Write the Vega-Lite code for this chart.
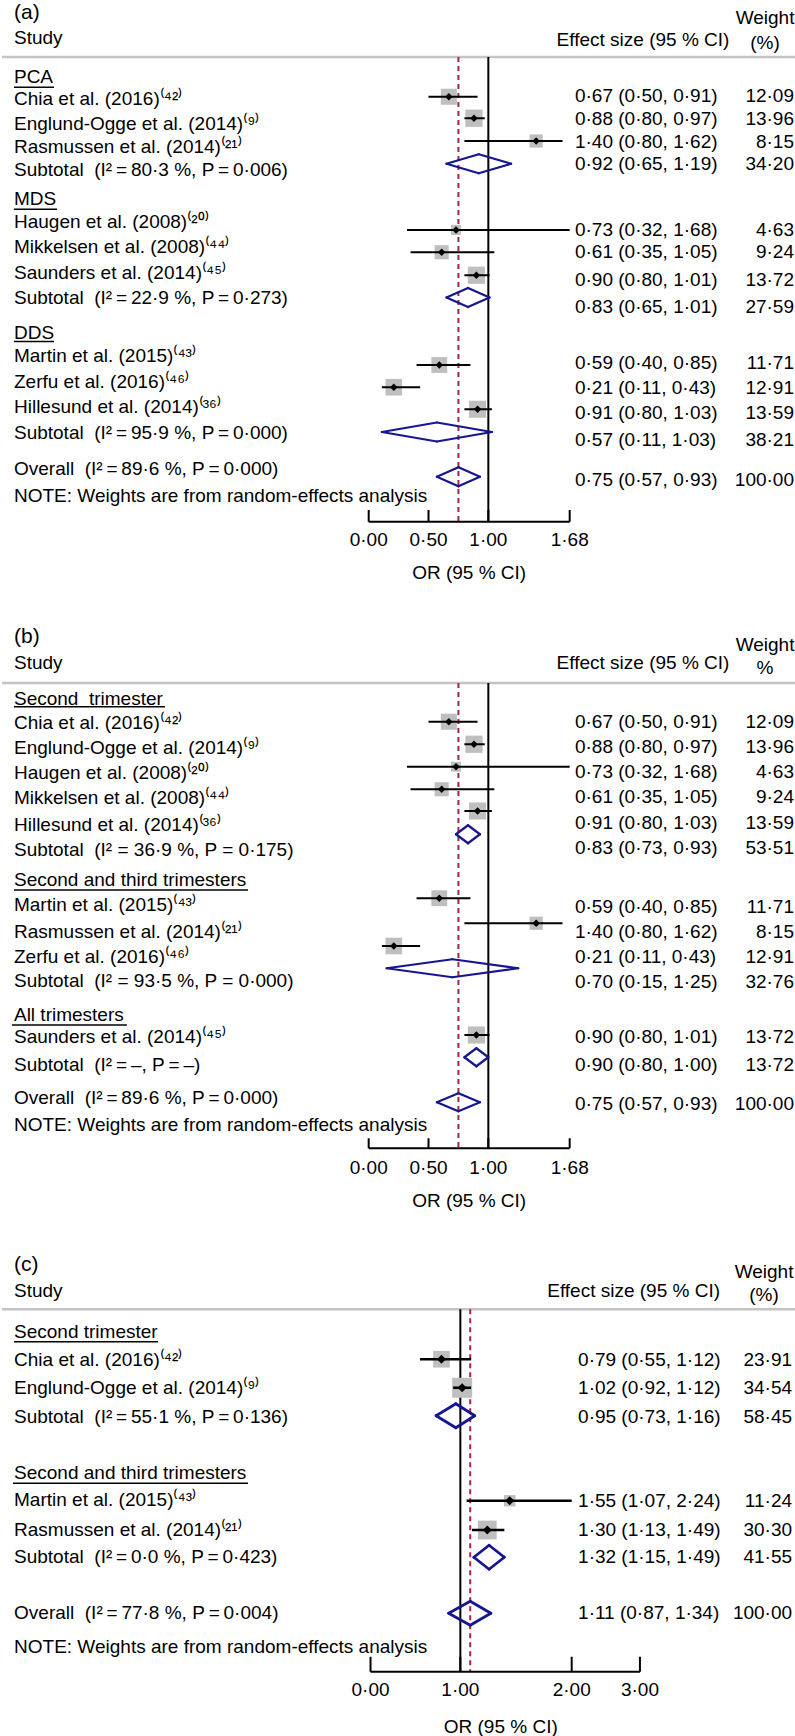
{
"$schema": "https://vega.github.io/schema/vega-lite/v6.json",
"padding": 0,
"spacing": 0,
"background": "white",
"config": {"view": {"stroke": null}, "axis": {"disable": true}, "legend": {"disable": true},
  "text": {"font": "Liberation Sans", "fontSize": 19, "color": "black", "baseline": "middle"},
  "locale": {"number": {"decimal": "·", "thousands": ",", "grouping": [3], "currency": ["", ""]}}},
"resolve": {"scale": {"x": "independent", "y": "independent", "size": "independent"}},
"datasets": {
"A": [
{"type":"p","label":"(a)","ly":0.52},
{"type":"h","label":"Study","ly":1.52},
{"type":"he","label":"Effect size (95 % CI)","ty":1.6},
{"type":"hw","label":"Weight","ty":0.72},
{"type":"hw","label":"(%)","ty":1.72},
{"type":"g","label":"PCA","ly":3.07},
{"type":"s","label":"Chia et al. (2016)⁽⁴²⁾","ly":3.96,"py":3.87,"ty":3.84,"est":0.67,"lo":0.5,"hi":0.91,"w":12.09,"ci":"0·67 (0·50, 0·91)"},
{"type":"s","label":"Englund-Ogge et al. (2014)⁽⁹⁾","ly":4.96,"py":4.73,"ty":4.76,"est":0.88,"lo":0.8,"hi":0.97,"w":13.96,"ci":"0·88 (0·80, 0·97)"},
{"type":"s","label":"Rasmussen et al. (2014)⁽²¹⁾","ly":5.87,"py":5.64,"ty":5.68,"est":1.4,"lo":0.8,"hi":1.62,"w":8.15,"ci":"1·40 (0·80, 1·62)"},
{"type":"d","label":"Subtotal\u00a0\u00a0(I²\u2009=\u200980·3 %, P\u2009=\u20090·006)","ly":6.8,"py":6.55,"ty":6.56,"est":0.92,"lo":0.65,"hi":1.19,"w":34.2,"ci":"0·92 (0·65, 1·19)"},
{"type":"g","label":"MDS","ly":7.97},
{"type":"s","label":"Haugen et al. (2008)⁽²⁰⁾","ly":8.87,"py":9.2,"ty":9.2,"est":0.73,"lo":0.32,"hi":1.68,"w":4.63,"ci":"0·73 (0·32, 1·68)"},
{"type":"s","label":"Mikkelsen et al. (2008)⁽⁴⁴⁾","ly":9.87,"py":10.09,"ty":10.08,"est":0.61,"lo":0.35,"hi":1.05,"w":9.24,"ci":"0·61 (0·35, 1·05)"},
{"type":"s","label":"Saunders et al. (2014)⁽⁴⁵⁾","ly":10.93,"py":11.01,"ty":11.2,"est":0.9,"lo":0.8,"hi":1.01,"w":13.72,"ci":"0·90 (0·80, 1·01)"},
{"type":"d","label":"Subtotal\u00a0\u00a0(I²\u2009=\u200922·9 %, P\u2009=\u20090·273)","ly":11.93,"py":11.9,"ty":12.27,"est":0.83,"lo":0.65,"hi":1.01,"w":27.59,"ci":"0·83 (0·65, 1·01)"},
{"type":"g","label":"DDS","ly":13.33},
{"type":"s","label":"Martin et al. (2015)⁽⁴³⁾","ly":14.24,"py":14.6,"ty":14.53,"est":0.59,"lo":0.4,"hi":0.85,"w":11.71,"ci":"0·59 (0·40, 0·85)"},
{"type":"s","label":"Zerfu et al. (2016)⁽⁴⁶⁾","ly":15.27,"py":15.49,"ty":15.53,"est":0.21,"lo":0.11,"hi":0.43,"w":12.91,"ci":"0·21 (0·11, 0·43)"},
{"type":"s","label":"Hillesund et al. (2014)⁽³⁶⁾","ly":16.27,"py":16.37,"ty":16.53,"est":0.91,"lo":0.8,"hi":1.03,"w":13.59,"ci":"0·91 (0·80, 1·03)"},
{"type":"d","label":"Subtotal\u00a0\u00a0(I²\u2009=\u200995·9 %, P\u2009=\u20090·000)","ly":17.33,"py":17.28,"ty":17.6,"est":0.57,"lo":0.11,"hi":1.03,"w":38.21,"ci":"0·57 (0·11, 1·03)"},
{"type":"o","label":"Overall\u00a0\u00a0(I²\u2009=\u200989·6 %, P\u2009=\u20090·000)","ly":18.77,"py":19.07,"ty":19.2,"est":0.75,"lo":0.57,"hi":0.93,"w":100,"ci":"0·75 (0·57, 0·93)"},
{"type":"n","label":"NOTE: Weights are from random-effects analysis","ly":19.84},
{"type":"t","v":0,"lab":"0·00"},{"type":"t","v":0.5,"lab":"0·50"},{"type":"t","v":1,"lab":"1·00"},{"type":"t","v":1.68,"lab":"1·68"},
{"type":"xt","label":"OR (95 % CI)"}
],
"B": [
{"type":"p","label":"(b)","ly":1.27},
{"type":"h","label":"Study","ly":2.33},
{"type":"he","label":"Effect size (95 % CI)","ty":2.32},
{"type":"hw","label":"Weight","ty":1.6},
{"type":"hw","label":"%","ty":2.52},
{"type":"g","label":"Second\u00a0\u00a0trimester","ly":3.76},
{"type":"s","label":"Chia et al. (2016)⁽⁴²⁾","ly":4.73,"py":4.67,"ty":4.67,"est":0.67,"lo":0.5,"hi":0.91,"w":12.09,"ci":"0·67 (0·50, 0·91)"},
{"type":"s","label":"Englund-Ogge et al. (2014)⁽⁹⁾","ly":5.73,"py":5.57,"ty":5.67,"est":0.88,"lo":0.8,"hi":0.97,"w":13.96,"ci":"0·88 (0·80, 0·97)"},
{"type":"s","label":"Haugen et al. (2008)⁽²⁰⁾","ly":6.73,"py":6.47,"ty":6.69,"est":0.73,"lo":0.32,"hi":1.68,"w":4.63,"ci":"0·73 (0·32, 1·68)"},
{"type":"s","label":"Mikkelsen et al. (2008)⁽⁴⁴⁾","ly":7.73,"py":7.37,"ty":7.69,"est":0.61,"lo":0.35,"hi":1.05,"w":9.24,"ci":"0·61 (0·35, 1·05)"},
{"type":"s","label":"Hillesund et al. (2014)⁽³⁶⁾","ly":8.8,"py":8.24,"ty":8.71,"est":0.91,"lo":0.8,"hi":1.03,"w":13.59,"ci":"0·91 (0·80, 1·03)"},
{"type":"d","label":"Subtotal\u00a0\u00a0(I² = 36·9 %, P = 0·175)","ly":9.8,"py":9.17,"ty":9.73,"est":0.83,"lo":0.73,"hi":0.93,"w":53.51,"ci":"0·83 (0·73, 0·93)"},
{"type":"g","label":"Second and third trimesters","ly":11.0},
{"type":"s","label":"Martin et al. (2015)⁽⁴³⁾","ly":12.0,"py":11.73,"ty":12.07,"est":0.59,"lo":0.4,"hi":0.85,"w":11.71,"ci":"0·59 (0·40, 0·85)"},
{"type":"s","label":"Rasmussen et al. (2014)⁽²¹⁾","ly":13.07,"py":12.73,"ty":13.07,"est":1.4,"lo":0.8,"hi":1.62,"w":8.15,"ci":"1·40 (0·80, 1·62)"},
{"type":"s","label":"Zerfu et al. (2016)⁽⁴⁶⁾","ly":14.07,"py":13.64,"ty":14.07,"est":0.21,"lo":0.11,"hi":0.43,"w":12.91,"ci":"0·21 (0·11, 0·43)"},
{"type":"d","label":"Subtotal\u00a0\u00a0(I² = 93·5 %, P = 0·000)","ly":15.03,"py":14.53,"ty":15.07,"est":0.7,"lo":0.15,"hi":1.25,"w":32.76,"ci":"0·70 (0·15, 1·25)"},
{"type":"g","label":"All trimesters","ly":16.4},
{"type":"s","label":"Saunders et al. (2014)⁽⁴⁵⁾","ly":17.27,"py":17.2,"ty":17.29,"est":0.9,"lo":0.8,"hi":1.01,"w":13.72,"ci":"0·90 (0·80, 1·01)"},
{"type":"d","label":"Subtotal\u00a0\u00a0(I²\u2009=\u2009–, P\u2009=\u2009–)","ly":18.4,"py":18.09,"ty":18.4,"est":0.9,"lo":0.8,"hi":1.0,"w":13.72,"ci":"0·90 (0·80, 1·00)"},
{"type":"o","label":"Overall\u00a0\u00a0(I²\u2009=\u200989·6 %, P\u2009=\u20090·000)","ly":19.73,"py":19.89,"ty":19.96,"est":0.75,"lo":0.57,"hi":0.93,"w":100,"ci":"0·75 (0·57, 0·93)"},
{"type":"n","label":"NOTE: Weights are from random-effects analysis","ly":20.8},
{"type":"t","v":0,"lab":"0·00"},{"type":"t","v":0.5,"lab":"0·50"},{"type":"t","v":1,"lab":"1·00"},{"type":"t","v":1.68,"lab":"1·68"},
{"type":"xt","label":"OR (95 % CI)"}
],
"C": [
{"type":"p","label":"(c)","ly":1.2},
{"type":"h","label":"Study","ly":2.23},
{"type":"he","label":"Effect size (95 % CI)","ty":2.23},
{"type":"hw","label":"Weight","ty":1.47},
{"type":"hw","label":"(%)","ty":2.4},
{"type":"g","label":"Second trimester","ly":3.87},
{"type":"s","label":"Chia et al. (2016)⁽⁴²⁾","ly":5.0,"py":4.97,"ty":5.0,"est":0.79,"lo":0.55,"hi":1.12,"w":23.91,"ci":"0·79 (0·55, 1·12)"},
{"type":"s","label":"Englund-Ogge et al. (2014)⁽⁹⁾","ly":6.13,"py":6.11,"ty":6.13,"est":1.02,"lo":0.92,"hi":1.12,"w":34.54,"ci":"1·02 (0·92, 1·12)"},
{"type":"d","label":"Subtotal\u00a0\u00a0(I²\u2009=\u200955·1 %, P\u2009=\u20090·136)","ly":7.27,"py":7.23,"ty":7.27,"est":0.95,"lo":0.73,"hi":1.16,"w":58.45,"ci":"0·95 (0·73, 1·16)"},
{"type":"g","label":"Second and third trimesters","ly":9.53},
{"type":"s","label":"Martin et al. (2015)⁽⁴³⁾","ly":10.6,"py":10.63,"ty":10.63,"est":1.55,"lo":1.07,"hi":2.24,"w":11.24,"ci":"1·55 (1·07, 2·24)"},
{"type":"s","label":"Rasmussen et al. (2014)⁽²¹⁾","ly":11.8,"py":11.8,"ty":11.8,"est":1.3,"lo":1.13,"hi":1.49,"w":30.3,"ci":"1·30 (1·13, 1·49)"},
{"type":"d","label":"Subtotal\u00a0\u00a0(I²\u2009=\u20090·0 %, P\u2009=\u20090·423)","ly":12.89,"py":12.89,"ty":12.89,"est":1.32,"lo":1.15,"hi":1.49,"w":41.55,"ci":"1·32 (1·15, 1·49)"},
{"type":"o","label":"Overall\u00a0\u00a0(I²\u2009=\u200977·8 %, P\u2009=\u20090·004)","ly":15.13,"py":15.13,"ty":15.13,"est":1.11,"lo":0.87,"hi":1.34,"w":100,"ci":"1·11 (0·87, 1·34)"},
{"type":"n","label":"NOTE: Weights are from random-effects analysis","ly":16.47},
{"type":"t","v":0,"lab":"0·00"},{"type":"t","v":1,"lab":"1·00"},{"type":"t","v":2.24,"lab":"2·00"},{"type":"t","v":3,"lab":"3·00"},
{"type":"xt","label":"OR (95 % CI)"}
]
},
"vconcat": [
{
"width": 795, "height": 605,
"data": {"name": "A"},
"layer": [
{"data":{"values":[{}]},"mark":{"type":"rule","color":"#c4c4c4","strokeWidth":2.5},
 "encoding":{"x":{"datum":-3.065,"type":"quantitative","scale":{"domain":[-3.065,3.58],"nice":false,"zero":false},"axis":null},"x2":{"datum":3.58},"y":{"datum":2.28,"type":"quantitative","scale":{"domain":[0,24.2],"reverse":true,"nice":false,"zero":false},"axis":null}}},
{"data":{"values":[{}]},"mark":{"type":"rule","color":"black","strokeWidth":2},
 "encoding":{"x":{"datum":1,"type":"quantitative"},"y":{"datum":2.28,"type":"quantitative"},"y2":{"datum":20.87}}},
{"transform":[{"filter":"datum.type == 'o'"}],"mark":{"type":"rule","color":"#a4244a","strokeWidth":2,"strokeDash":[5,4]},
 "encoding":{"x":{"field":"est","type":"quantitative"},"y":{"datum":2.28,"type":"quantitative"},"y2":{"datum":20.87}}},
{"transform":[{"filter":"datum.type == 's'"}],"mark":{"type":"point","shape":"square","filled":true,"color":"#bfbfbf","opacity":1},
 "encoding":{"x":{"field":"est","type":"quantitative"},"y":{"field":"py","type":"quantitative"},"size":{"field":"w","type":"quantitative","scale":{"type":"linear","domain":[0,14],"range":[0,300],"zero":true},"legend":null}}},
{"transform":[{"filter":"datum.type == 's'"}],"mark":{"type":"rule","color":"black","strokeWidth":2},
 "encoding":{"x":{"field":"lo","type":"quantitative"},"x2":{"field":"hi"},"y":{"field":"py","type":"quantitative"}}},
{"transform":[{"filter":"datum.type == 's'"}],"mark":{"type":"point","shape":"diamond","filled":true,"color":"black","size":55,"opacity":1},
 "encoding":{"x":{"field":"est","type":"quantitative"},"y":{"field":"py","type":"quantitative"}}},
{"transform":[{"filter":"datum.type == 'd' || datum.type == 'o'"}],"mark":{"type":"rule","color":"#16168f","strokeWidth":2.2,"strokeCap":"round","y2Offset":-9.5},
 "encoding":{"x":{"field":"lo","type":"quantitative"},"x2":{"field":"est"},"y":{"field":"py","type":"quantitative"},"y2":{"field":"py"}}},
{"transform":[{"filter":"datum.type == 'd' || datum.type == 'o'"}],"mark":{"type":"rule","color":"#16168f","strokeWidth":2.2,"strokeCap":"round","yOffset":-9.5},
 "encoding":{"x":{"field":"est","type":"quantitative"},"x2":{"field":"hi"},"y":{"field":"py","type":"quantitative"},"y2":{"field":"py"}}},
{"transform":[{"filter":"datum.type == 'd' || datum.type == 'o'"}],"mark":{"type":"rule","color":"#16168f","strokeWidth":2.2,"strokeCap":"round","y2Offset":9.5},
 "encoding":{"x":{"field":"hi","type":"quantitative"},"x2":{"field":"est"},"y":{"field":"py","type":"quantitative"},"y2":{"field":"py"}}},
{"transform":[{"filter":"datum.type == 'd' || datum.type == 'o'"}],"mark":{"type":"rule","color":"#16168f","strokeWidth":2.2,"strokeCap":"round","yOffset":9.5},
 "encoding":{"x":{"field":"est","type":"quantitative"},"x2":{"field":"lo"},"y":{"field":"py","type":"quantitative"},"y2":{"field":"py"}}},
{"data":{"values":[{}]},"mark":{"type":"rule","color":"black","strokeWidth":2},
 "encoding":{"x":{"datum":0,"type":"quantitative"},"x2":{"datum":1.68},"y":{"datum":20.87,"type":"quantitative"}}},
{"transform":[{"filter":"datum.type == 't'"}],"mark":{"type":"rule","color":"black","strokeWidth":2},
 "encoding":{"x":{"field":"v","type":"quantitative"},"y":{"datum":20.4,"type":"quantitative"},"y2":{"datum":20.87}}},
{"transform":[{"filter":"datum.type == 't'"}],"mark":{"type":"text","align":"center"},
 "encoding":{"x":{"field":"v","type":"quantitative"},"y":{"datum":21.6,"type":"quantitative"},"text":{"field":"lab"}}},
{"transform":[{"filter":"datum.type == 'xt'"}],"mark":{"type":"text","align":"center"},
 "encoding":{"x":{"datum":0.84,"type":"quantitative"},"y":{"datum":22.93,"type":"quantitative"},"text":{"field":"label"}}},
{"transform":[{"filter":"indexof(['h','g','s','d','o','n'], datum.type) >= 0"}],"mark":{"type":"text","align":"left"},
 "encoding":{"x":{"datum":-2.965,"type":"quantitative"},"y":{"field":"ly","type":"quantitative"},"text":{"field":"label"}}},
{"transform":[{"filter":"datum.type == 'p'"}],"mark":{"type":"text","align":"left","fontSize":21},
 "encoding":{"x":{"datum":-2.965,"type":"quantitative"},"y":{"field":"ly","type":"quantitative"},"text":{"field":"label"}}},
{"transform":[{"filter":"indexof(['s','d','o'], datum.type) >= 0"}],"mark":{"type":"text","align":"left"},
 "encoding":{"x":{"datum":1.724,"type":"quantitative"},"y":{"field":"ty","type":"quantitative"},"text":{"field":"ci"}}},
{"transform":[{"filter":"indexof(['s','d','o'], datum.type) >= 0"}],"mark":{"type":"text","align":"right"},
 "encoding":{"x":{"datum":3.555,"type":"quantitative"},"y":{"field":"ty","type":"quantitative"},"text":{"field":"w","type":"quantitative","format":".2f"}}},
{"transform":[{"filter":"datum.type == 'he'"}],"mark":{"type":"text","align":"right"},
 "encoding":{"x":{"datum":3.015,"type":"quantitative"},"y":{"field":"ty","type":"quantitative"},"text":{"field":"label"}}},
{"transform":[{"filter":"datum.type == 'hw'"}],"mark":{"type":"text","align":"center"},
 "encoding":{"x":{"datum":3.313,"type":"quantitative"},"y":{"field":"ty","type":"quantitative"},"text":{"field":"label"}}},
{"data":{"values":[{}]},"mark":{"type":"rule","color":"black","strokeWidth":1.5},
 "encoding":{"x":{"datum":-2.965,"type":"quantitative"},"x2":{"datum":-2.63},"y":{"datum":3.49,"type":"quantitative"}}},
{"data":{"values":[{}]},"mark":{"type":"rule","color":"black","strokeWidth":1.5},
 "encoding":{"x":{"datum":-2.965,"type":"quantitative"},"x2":{"datum":-2.605},"y":{"datum":8.37,"type":"quantitative"}}},
{"data":{"values":[{}]},"mark":{"type":"rule","color":"black","strokeWidth":1.5},
 "encoding":{"x":{"datum":-2.965,"type":"quantitative"},"x2":{"datum":-2.63},"y":{"datum":13.66,"type":"quantitative"}}}
]
},
{
"width": 795, "height": 630,
"data": {"name": "B"},
"layer": [
{"data":{"values":[{}]},"mark":{"type":"rule","color":"#c4c4c4","strokeWidth":2.5},
 "encoding":{"x":{"datum":-3.065,"type":"quantitative","scale":{"domain":[-3.065,3.58],"nice":false,"zero":false},"axis":null},"x2":{"datum":3.58},"y":{"datum":3.12,"type":"quantitative","scale":{"domain":[0,25.2],"reverse":true,"nice":false,"zero":false},"axis":null}}},
{"data":{"values":[{}]},"mark":{"type":"rule","color":"black","strokeWidth":2},
 "encoding":{"x":{"datum":1,"type":"quantitative"},"y":{"datum":3.12,"type":"quantitative"},"y2":{"datum":21.73}}},
{"transform":[{"filter":"datum.type == 'o'"}],"mark":{"type":"rule","color":"#a4244a","strokeWidth":2,"strokeDash":[5,4]},
 "encoding":{"x":{"field":"est","type":"quantitative"},"y":{"datum":3.12,"type":"quantitative"},"y2":{"datum":21.73}}},
{"transform":[{"filter":"datum.type == 's'"}],"mark":{"type":"point","shape":"square","filled":true,"color":"#bfbfbf","opacity":1},
 "encoding":{"x":{"field":"est","type":"quantitative"},"y":{"field":"py","type":"quantitative"},"size":{"field":"w","type":"quantitative","scale":{"type":"linear","domain":[0,14],"range":[0,300],"zero":true},"legend":null}}},
{"transform":[{"filter":"datum.type == 's'"}],"mark":{"type":"rule","color":"black","strokeWidth":2},
 "encoding":{"x":{"field":"lo","type":"quantitative"},"x2":{"field":"hi"},"y":{"field":"py","type":"quantitative"}}},
{"transform":[{"filter":"datum.type == 's'"}],"mark":{"type":"point","shape":"diamond","filled":true,"color":"black","size":55,"opacity":1},
 "encoding":{"x":{"field":"est","type":"quantitative"},"y":{"field":"py","type":"quantitative"}}},
{"transform":[{"filter":"datum.type == 'd' || datum.type == 'o'"}],"mark":{"type":"rule","color":"#16168f","strokeWidth":2.2,"strokeCap":"round","y2Offset":-9},
 "encoding":{"x":{"field":"lo","type":"quantitative"},"x2":{"field":"est"},"y":{"field":"py","type":"quantitative"},"y2":{"field":"py"}}},
{"transform":[{"filter":"datum.type == 'd' || datum.type == 'o'"}],"mark":{"type":"rule","color":"#16168f","strokeWidth":2.2,"strokeCap":"round","yOffset":-9},
 "encoding":{"x":{"field":"est","type":"quantitative"},"x2":{"field":"hi"},"y":{"field":"py","type":"quantitative"},"y2":{"field":"py"}}},
{"transform":[{"filter":"datum.type == 'd' || datum.type == 'o'"}],"mark":{"type":"rule","color":"#16168f","strokeWidth":2.2,"strokeCap":"round","y2Offset":9},
 "encoding":{"x":{"field":"hi","type":"quantitative"},"x2":{"field":"est"},"y":{"field":"py","type":"quantitative"},"y2":{"field":"py"}}},
{"transform":[{"filter":"datum.type == 'd' || datum.type == 'o'"}],"mark":{"type":"rule","color":"#16168f","strokeWidth":2.2,"strokeCap":"round","yOffset":9},
 "encoding":{"x":{"field":"est","type":"quantitative"},"x2":{"field":"lo"},"y":{"field":"py","type":"quantitative"},"y2":{"field":"py"}}},
{"data":{"values":[{}]},"mark":{"type":"rule","color":"black","strokeWidth":2},
 "encoding":{"x":{"datum":0,"type":"quantitative"},"x2":{"datum":1.68},"y":{"datum":21.73,"type":"quantitative"}}},
{"transform":[{"filter":"datum.type == 't'"}],"mark":{"type":"rule","color":"black","strokeWidth":2},
 "encoding":{"x":{"field":"v","type":"quantitative"},"y":{"datum":21.33,"type":"quantitative"},"y2":{"datum":21.73}}},
{"transform":[{"filter":"datum.type == 't'"}],"mark":{"type":"text","align":"center"},
 "encoding":{"x":{"field":"v","type":"quantitative"},"y":{"datum":22.53,"type":"quantitative"},"text":{"field":"lab"}}},
{"transform":[{"filter":"datum.type == 'xt'"}],"mark":{"type":"text","align":"center"},
 "encoding":{"x":{"datum":0.84,"type":"quantitative"},"y":{"datum":23.84,"type":"quantitative"},"text":{"field":"label"}}},
{"transform":[{"filter":"indexof(['h','g','s','d','o','n'], datum.type) >= 0"}],"mark":{"type":"text","align":"left"},
 "encoding":{"x":{"datum":-2.965,"type":"quantitative"},"y":{"field":"ly","type":"quantitative"},"text":{"field":"label"}}},
{"transform":[{"filter":"datum.type == 'p'"}],"mark":{"type":"text","align":"left","fontSize":21},
 "encoding":{"x":{"datum":-2.965,"type":"quantitative"},"y":{"field":"ly","type":"quantitative"},"text":{"field":"label"}}},
{"transform":[{"filter":"indexof(['s','d','o'], datum.type) >= 0"}],"mark":{"type":"text","align":"left"},
 "encoding":{"x":{"datum":1.724,"type":"quantitative"},"y":{"field":"ty","type":"quantitative"},"text":{"field":"ci"}}},
{"transform":[{"filter":"indexof(['s','d','o'], datum.type) >= 0"}],"mark":{"type":"text","align":"right"},
 "encoding":{"x":{"datum":3.555,"type":"quantitative"},"y":{"field":"ty","type":"quantitative"},"text":{"field":"w","type":"quantitative","format":".2f"}}},
{"transform":[{"filter":"datum.type == 'he'"}],"mark":{"type":"text","align":"right"},
 "encoding":{"x":{"datum":3.015,"type":"quantitative"},"y":{"field":"ty","type":"quantitative"},"text":{"field":"label"}}},
{"transform":[{"filter":"datum.type == 'hw'"}],"mark":{"type":"text","align":"center"},
 "encoding":{"x":{"datum":3.313,"type":"quantitative"},"y":{"field":"ty","type":"quantitative"},"text":{"field":"label"}}},
{"data":{"values":[{}]},"mark":{"type":"rule","color":"black","strokeWidth":1.5},
 "encoding":{"x":{"datum":-2.965,"type":"quantitative"},"x2":{"datum":-1.703},"y":{"datum":4.07,"type":"quantitative"}}},
{"data":{"values":[{}]},"mark":{"type":"rule","color":"black","strokeWidth":1.5},
 "encoding":{"x":{"datum":-2.965,"type":"quantitative"},"x2":{"datum":-1.009},"y":{"datum":11.4,"type":"quantitative"}}},
{"data":{"values":[{}]},"mark":{"type":"rule","color":"black","strokeWidth":1.5},
 "encoding":{"x":{"datum":-2.982,"type":"quantitative"},"x2":{"datum":-2.021},"y":{"datum":16.8,"type":"quantitative"}}}
]
},
{
"width": 795, "height": 501,
"data": {"name": "C"},
"layer": [
{"data":{"values":[{}]},"mark":{"type":"rule","color":"#c4c4c4","strokeWidth":2.5},
 "encoding":{"x":{"datum":-4.104,"type":"quantitative","scale":{"domain":[-4.104,4.749],"nice":false,"zero":false},"axis":null},"x2":{"datum":4.749},"y":{"datum":2.97,"type":"quantitative","scale":{"domain":[0,20.04],"reverse":true,"nice":false,"zero":false},"axis":null}}},
{"data":{"values":[{}]},"mark":{"type":"rule","color":"black","strokeWidth":2},
 "encoding":{"x":{"datum":1,"type":"quantitative"},"y":{"datum":2.97,"type":"quantitative"},"y2":{"datum":17.47}}},
{"transform":[{"filter":"datum.type == 'o'"}],"mark":{"type":"rule","color":"#a4244a","strokeWidth":2,"strokeDash":[5,4]},
 "encoding":{"x":{"field":"est","type":"quantitative"},"y":{"datum":2.97,"type":"quantitative"},"y2":{"datum":17.47}}},
{"transform":[{"filter":"datum.type == 's'"}],"mark":{"type":"point","shape":"square","filled":true,"color":"#bfbfbf","opacity":1},
 "encoding":{"x":{"field":"est","type":"quantitative"},"y":{"field":"py","type":"quantitative"},"size":{"field":"w","type":"quantitative","scale":{"type":"linear","domain":[0,35],"range":[0,406],"zero":true},"legend":null}}},
{"transform":[{"filter":"datum.type == 's'"}],"mark":{"type":"rule","color":"black","strokeWidth":2.6},
 "encoding":{"x":{"field":"lo","type":"quantitative"},"x2":{"field":"hi"},"y":{"field":"py","type":"quantitative"}}},
{"transform":[{"filter":"datum.type == 's'"}],"mark":{"type":"point","shape":"diamond","filled":true,"color":"black","size":80,"opacity":1},
 "encoding":{"x":{"field":"est","type":"quantitative"},"y":{"field":"py","type":"quantitative"}}},
{"transform":[{"filter":"datum.type == 'd' || datum.type == 'o'"}],"mark":{"type":"rule","color":"#16168f","strokeWidth":2.8,"strokeCap":"round","y2Offset":-12},
 "encoding":{"x":{"field":"lo","type":"quantitative"},"x2":{"field":"est"},"y":{"field":"py","type":"quantitative"},"y2":{"field":"py"}}},
{"transform":[{"filter":"datum.type == 'd' || datum.type == 'o'"}],"mark":{"type":"rule","color":"#16168f","strokeWidth":2.8,"strokeCap":"round","yOffset":-12},
 "encoding":{"x":{"field":"est","type":"quantitative"},"x2":{"field":"hi"},"y":{"field":"py","type":"quantitative"},"y2":{"field":"py"}}},
{"transform":[{"filter":"datum.type == 'd' || datum.type == 'o'"}],"mark":{"type":"rule","color":"#16168f","strokeWidth":2.8,"strokeCap":"round","y2Offset":12},
 "encoding":{"x":{"field":"hi","type":"quantitative"},"x2":{"field":"est"},"y":{"field":"py","type":"quantitative"},"y2":{"field":"py"}}},
{"transform":[{"filter":"datum.type == 'd' || datum.type == 'o'"}],"mark":{"type":"rule","color":"#16168f","strokeWidth":2.8,"strokeCap":"round","yOffset":12},
 "encoding":{"x":{"field":"est","type":"quantitative"},"x2":{"field":"lo"},"y":{"field":"py","type":"quantitative"},"y2":{"field":"py"}}},
{"data":{"values":[{}]},"mark":{"type":"rule","color":"black","strokeWidth":2},
 "encoding":{"x":{"datum":0,"type":"quantitative"},"x2":{"datum":3},"y":{"datum":17.47,"type":"quantitative"}}},
{"transform":[{"filter":"datum.type == 't'"}],"mark":{"type":"rule","color":"black","strokeWidth":2},
 "encoding":{"x":{"field":"v","type":"quantitative"},"y":{"datum":16.87,"type":"quantitative"},"y2":{"datum":17.47}}},
{"transform":[{"filter":"datum.type == 't'"}],"mark":{"type":"text","align":"center"},
 "encoding":{"x":{"field":"v","type":"quantitative"},"y":{"datum":18.2,"type":"quantitative"},"text":{"field":"lab"}}},
{"transform":[{"filter":"datum.type == 'xt'"}],"mark":{"type":"text","align":"center"},
 "encoding":{"x":{"datum":1.45,"type":"quantitative"},"y":{"datum":19.67,"type":"quantitative"},"text":{"field":"label"}}},
{"transform":[{"filter":"indexof(['h','g','s','d','o','n'], datum.type) >= 0"}],"mark":{"type":"text","align":"left"},
 "encoding":{"x":{"datum":-3.97,"type":"quantitative"},"y":{"field":"ly","type":"quantitative"},"text":{"field":"label"}}},
{"transform":[{"filter":"datum.type == 'p'"}],"mark":{"type":"text","align":"left","fontSize":21},
 "encoding":{"x":{"datum":-3.97,"type":"quantitative"},"y":{"field":"ly","type":"quantitative"},"text":{"field":"label"}}},
{"transform":[{"filter":"indexof(['s','d','o'], datum.type) >= 0"}],"mark":{"type":"text","align":"left"},
 "encoding":{"x":{"datum":2.311,"type":"quantitative"},"y":{"field":"ty","type":"quantitative"},"text":{"field":"ci"}}},
{"transform":[{"filter":"indexof(['s','d','o'], datum.type) >= 0"}],"mark":{"type":"text","align":"right"},
 "encoding":{"x":{"datum":4.694,"type":"quantitative"},"y":{"field":"ty","type":"quantitative"},"text":{"field":"w","type":"quantitative","format":".2f"}}},
{"transform":[{"filter":"datum.type == 'he'"}],"mark":{"type":"text","align":"right"},
 "encoding":{"x":{"datum":3.892,"type":"quantitative"},"y":{"field":"ty","type":"quantitative"},"text":{"field":"label"}}},
{"transform":[{"filter":"datum.type == 'hw'"}],"mark":{"type":"text","align":"center"},
 "encoding":{"x":{"datum":4.382,"type":"quantitative"},"y":{"field":"ty","type":"quantitative"},"text":{"field":"label"}}},
{"data":{"values":[{}]},"mark":{"type":"rule","color":"black","strokeWidth":1.5},
 "encoding":{"x":{"datum":-3.97,"type":"quantitative"},"x2":{"datum":-2.366},"y":{"datum":4.27,"type":"quantitative"}}},
{"data":{"values":[{}]},"mark":{"type":"rule","color":"black","strokeWidth":1.5},
 "encoding":{"x":{"datum":-3.981,"type":"quantitative"},"x2":{"datum":-1.364},"y":{"datum":9.93,"type":"quantitative"}}}
]
}
]
}
